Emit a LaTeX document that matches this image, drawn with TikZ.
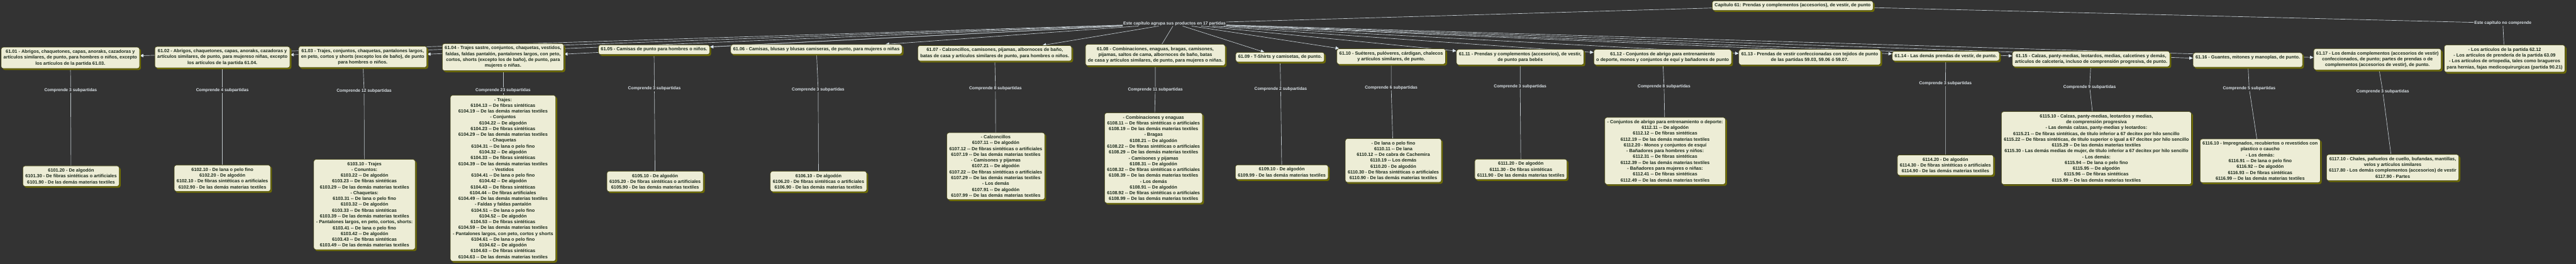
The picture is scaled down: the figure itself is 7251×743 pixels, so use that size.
\documentclass[tikz,border=0pt]{standalone}
\usepackage{fontspec}
\setmainfont{Liberation Sans}
\usepackage{xcolor}
\definecolor{fondo}{HTML}{333333}
\definecolor{cajafill}{HTML}{EDEDD6}
\definecolor{cajaborde}{HTML}{45450F}
\definecolor{sombra}{HTML}{6E6C06}
\definecolor{tinta}{HTML}{1C2A1C}
\definecolor{hilo}{HTML}{BFC7CC}
\definecolor{punta}{HTML}{DCE7EF}
\definecolor{rotulo}{HTML}{DCE3E8}
\usepackage{tikz}
\usetikzlibrary{arrows.meta, shadows}
\pgfdeclarelayer{canvas}
\pgfdeclarelayer{wires}
\pgfsetlayers{canvas,wires,main}
\newcommand{\ddsh}{-\kern0pt-}

\begin{document}
\begin{tikzpicture}[x=1pt, y=-1pt,
  partida/.style={rectangle, rounded corners=6pt, draw=cajaborde, line width=1.1pt,
    fill=cajafill, text=tinta, align=center, inner xsep=7pt, inner ysep=7.5pt,
    font=\fontsize{13}{16.4}\selectfont\bfseries,
    drop shadow={shadow xshift=4pt, shadow yshift=-4pt, fill=sombra, opacity=1}},
  subbox/.style={partida},
  cuenta/.style={text=rotulo, inner sep=1.5pt, font=\fontsize{12}{14}\selectfont\bfseries},
  wire/.style={draw=hilo, line width=1.2pt},
  arrow/.style={wire, -{Triangle[length=10pt, width=9pt, color=punta]}}
]
\useasboundingbox (0,0) rectangle (7251,743);
\begin{pgfonlayer}{canvas}
  \fill[fondo] (0,0) rectangle (7251,743);
\end{pgfonlayer}

\node[partida] (cap) at (5046,16)
  {Capítulo 61: Prendas y complementos (accesorios), de vestir, de punto};
\node[cuenta] (hub) at (3306,66) {Este capítulo agrupa sus productos en 17 partidas};
\node[cuenta] (nocomp) at (7045,65) {Este capítulo no comprende};
\node[partida] (excl) at (7050,165)
  {- Los artículos de la partida 62.12\\- Los artículos de prendería de la partida 63.09\\
   - Los artículos de ortopedia, tales como bragueros\\para hernias, fajas medicoquirurgicas (partida 90.21)};

\node[partida] (pt01) at (198,163)
  {61.01 - Abrigos, chaquetones, capas, anoraks, cazadoras y\\artículos similares, de punto, para hombres o niños, excepto\\los artículos de la partida 61.03.};
\node[partida] (pt02) at (626,161)
  {61.02 - Abrigos, chaquetones, capas, anoraks, cazadoras y\\artículos similares, de punto, para mujereso niñas, excepto\\los artículos de la partida 61.04.};
\node[partida] (pt03) at (1021,160)
  {61.03 - Trajes, conjuntos, chaquetas, pantalones largos,\\en peto, cortos y shorts (excepto los de baño), de punto\\para hombres o niños.};
\node[partida] (pt04) at (1416,161)
  {61.04 - Trajes sastre, conjuntos, chaquetas, vestidos,\\faldas, faldas pantalón, pantalones largos, con peto,\\cortos, shorts (excepto los de baño), de punto, para\\mujeres o niñas.};
\node[partida] (pt05) at (1841,140) {61.05 - Camisas de punto para hombres o niños.};
\node[partida] (pt06) at (2298,139) {61.06 - Camisas, blusas y blusas camiseras, de punto, para mujeres o niñas};
\node[partida] (pt07) at (2800,150)
  {61.07 - Calzoncillos, camisones, pijamas, albornoces de baño,\\batas de casa y artículos similares de punto, para hombres o niños.};
\node[partida] (pt08) at (3252,155)
  {61.08 - Combinaciones, enaguas, bragas, camisones,\\pijamas, saltos de cama, albornoces de baño, batas\\de casa y artículos similares, de punto, para mujeres o niñas.};
\node[partida] (pt09) at (3603,161) {61.09 - T-Shirts y camisetas, de punto.};
\node[partida] (pt10) at (3916,159)
  {61.10 - Suéteres, pulóveres, cárdigan, chalecos\\y artículos similares, de punto.};
\node[partida] (pt11) at (4279,161)
  {61.11 - Prendas y complementos (accesorios), de vestir,\\de punto para bebés};
\node[partida] (pt12) at (4680,161)
  {61.12 - Conjuntos de abrigo para entrenamiento\\o deporte, monos y conjuntos de equí y bañadores de punto};
\node[partida] (pt13) at (5094,161)
  {61.13 - Prendas de vestir confeccionadas con tejidos de punto\\de las partidas 59.03, 59.06 ó 59.07.};
\node[partida] (pt14) at (5477,158) {61.14 - Las demás prendas de vestir, de punto.};
\node[partida] (pt15) at (5886,166)
  {61.15 - Calzas, panty-medias, leotardos, medias, calcetines y demás,\\artículos de calcetería, incluso de comprensión progresiva, de punto.};
\node[partida] (pt16) at (6327,169) {61.16 - Guantes, mitones y manoplas, de punto.\\\mbox{}};
\node[partida] (pt17) at (6692,167)
  {61.17 - Los demás complementos (accesorios de vestir)\\confeccionados, de punto; partes de prendas o de\\complementos (accesorios de vestir), de punto.};

\node[subbox] (sb01) at (200,496)
  {6101.20 - De algodón\\6101.30 - De fibras sintéticas o artificiales\\6101.90 - De las demás materias textiles};
\node[subbox] (sb02) at (626,502)
  {6102.10 - De lana o pelo fino\\6102.20 - De algodón\\6102.10 - De fibras sintéticas o artificiales\\6102.90 - De las demás materias textiles};
\node[subbox] (sb03) at (1026,576)
  {6103.10 - Trajes\\- Conuntos:\\6103.22 \ddsh{} De algodón\\6103.23 \ddsh{} De fibras sintéticas\\
   6103.29 \ddsh{} De las demás materias textiles\\- Chaquetas:\\6103.31 \ddsh{} De lana o pelo fino\\
   6103.32 \ddsh{} De algodón\\6103.33 \ddsh{} De fibras sintéticas\\6103.39 \ddsh{} De las demás materias textiles\\
   - Pantalones largos, en peto, cortos, shorts:\\6103.41 \ddsh{} De lana o pelo fino\\6103.42 \ddsh{} De algodón\\
   6103.43 \ddsh{} De fibras sintéticas\\6103.49 \ddsh{} De las demás materias textiles};
\node[subbox] (sb04) at (1416,502)
  {- Trajes:\\6104.13 \ddsh{} De fibras sintéticas\\6104.19 \ddsh{} De las demás materias textiles\\
   - Conjuntos\\6104.22 \ddsh{} De algodón\\6104.23 \ddsh{} De fibras sintéticas\\6104.29 \ddsh{} De las demás materias textiles\\
   - Chaquetas\\6104.31 \ddsh{} De lana o pelo fino\\6104.32 \ddsh{} De algodón\\6104.33 \ddsh{} De fibras sintéticas\\
   6104.39 \ddsh{} De las demás materias textiles\\- Vestidos\\6104.41 \ddsh{} De lana o pelo fino\\
   6104.42 \ddsh{} De algodón\\6104.43 \ddsh{} De fibras sintéticas\\6104.44 \ddsh{} De fibras artificiales\\
   6104.49 \ddsh{} De las demás materias textiles\\- Faldas y faldas pantalón\\6104.51 \ddsh{} De lana o pelo fino\\
   6104.52 \ddsh{} De algodón\\6104.53 \ddsh{} De fibras sintéticas\\6104.59 \ddsh{} De las demás materias textiles\\
   - Pantalones largos, con peto, cortos y shorts\\6104.61 \ddsh{} De lana o pelo fino\\6104.62 \ddsh{} De algodón\\
   6104.63 \ddsh{} De fibras sintéticas\\6104.63 \ddsh{} De las demás materias textiles};
\node[subbox] (sb05) at (1844,511)
  {6105.10 - De algodón\\6105.20 - De fibras sintéticas o artificiales\\6105.90 - De las demás materias textiles};
\node[subbox] (sb06) at (2304,511)
  {6106.10 - De algodón\\6106.20 - De fibras sintéticas o artificiales\\6106.90 - De las demás materias textiles};
\node[subbox] (sb07) at (2803,468)
  {- Calzoncillos\\6107.11 \ddsh{} De algodón\\6107.12 \ddsh{} De fibras sintéticas o artificiales\\
   6107.19 \ddsh{} De las demás materias textiles\\- Camisones y pijamas\\6107.21 \ddsh{} De algodón\\
   6107.22 \ddsh{} De fibras sintéticas o artificiales\\6107.29 \ddsh{} De las demás materias textiles\\
   - Los demás\\6107.91 \ddsh{} De algodón\\6107.99 \ddsh{} De las demás materias textiles};
\node[subbox] (sb08) at (3247,445)
  {- Combinaciones y enaguas\\6108.11 \ddsh{} De fibras sintéticas o artificiales\\6108.19 \ddsh{} De las demás materias textiles\\
   - Bragas\\6108.21 \ddsh{} De algodón\\6108.22 \ddsh{} De fibras sintéticas o artificiales\\
   6108.29 \ddsh{} De las demás materias textiles\\- Camisones y pijamas\\6108.31 \ddsh{} De algodón\\
   6108.32 \ddsh{} De fibras sintéticas o artificiales\\6108.39 \ddsh{} De las demás materias textiles\\
   - Los demás\\6108.91 \ddsh{} De algodón\\6108.92 \ddsh{} De fibras sintéticas o artificiales\\
   6108.99 \ddsh{} De las demás materias textiles};
\node[subbox] (sb09) at (3608,485)
  {6109.10 - De algodón\\6109.99 - De las demás materias textiles};
\node[subbox] (sb10) at (3922,452)
  {- De lana o pelo fino\\6110.11 \ddsh{} De lana\\6110.12 \ddsh{} De cabra de Cachemira\\6110.19 \ddsh{} Los demás\\
   6110.20 - De algodón\\6110.30 - De fibras sintéticas o artificiales\\6110.90 - De las demás materias textiles};
\node[subbox] (sb11) at (4281,477)
  {6111.20 - De algodón\\6111.30 - De fibras sintéticas\\6111.90 - De las demás materias textiles};
\node[subbox] (sb12) at (4687,425)
  {- Conjuntos de abrigo para entrenamiento o deporte:\\6112.11 \ddsh{} De algodón\\6112.12 \ddsh{} De fibras sintéticas\\
   6112.19 \ddsh{} De las demás materias textiles\\6112.20 - Monos y conjuntos de esquí\\
   - Bañadores para hombres y niños:\\6112.31 \ddsh{} De fibras sintéticas\\6112.39 \ddsh{} De las demás materias textiles\\
   - Bañadores para mujeres o niñas:\\6112.41 \ddsh{} De fibras sintéticas\\6112.49 \ddsh{} De las demás materias textiles};
\node[subbox] (sb14) at (5476,465)
  {6114.20 - De algodón\\6114.30 - De fibras sintéticas o artificiales\\6114.90 - De las demás materias textiles};
\node[subbox] (sb15) at (5901,417)
  {6115.10 - Calzas, panty-medias, leotardos y medias,\\de comprensión progresiva\\
   - Las demás calzas, panty-medias y leotardos:\\
   6115.21 \ddsh{} De fibras sintéticas, de título inferior a 67 decitex por hilo sencillo\\
   6115.22 \ddsh{} De fibras sintéticas, de título superior o igual a 67 decitex por hilo sencillo\\
   6115.29 \ddsh{} De las demás materias textiles\\
   6115.30 - Las demás medias de mujer, de título inferior a 67 decitex por hilo sencillo\\
   - Los demás:\\6115.94 \ddsh{} De lana o pelo fino\\6115.95 \ddsh{} De algodón\\
   6115.96 \ddsh{} De fibras sintéticas\\6115.99 \ddsh{} De las demás materias textiles};
\node[subbox] (sb16) at (6362,453)
  {6116.10 - Impregnados, recubiertos o revestidos con\\plastico o caucho\\- Los demás:\\
   6116.91 \ddsh{} De lana o pelo fino\\6116.92 \ddsh{} De algodón\\6116.93 \ddsh{} De fibras sintéticas\\
   6116.99 \ddsh{} De las demás materias textiles};
\node[subbox] (sb17) at (6735,472)
  {6117.10 - Chales, pañuelos de cuello, bufandas, mantillas,\\velos y artículos similares\\
   6117.80 - Los demás complementos (accesorios) de vestir\\6117.90 - Partes};

\node[cuenta] (ct01) at (199,254) {Comprende 3 subpartidas};
\node[cuenta] (ct02) at (626,254) {Comprende 4 subpartidas};
\node[cuenta] (ct03) at (1025,256) {Comprende 12 subpartidas};
\node[cuenta] (ct04) at (1416,254) {Comprende 23 subpartidas};
\node[cuenta] (ct05) at (1842,250) {Comprende 3 subpartidas};
\node[cuenta] (ct06) at (2303,252) {Comprende 3 subpartidas};
\node[cuenta] (ct07) at (2802,250) {Comprende 8 subpartidas};
\node[cuenta] (ct08) at (3252,252) {Comprende 11 subpartidas};
\node[cuenta] (ct09) at (3605,251) {Comprende 2 subpartidas};
\node[cuenta] (ct10) at (3916,247) {Comprende 6 subpartidas};
\node[cuenta] (ct11) at (4279,243) {Comprende 3 subpartidas};
\node[cuenta] (ct12) at (4684,243) {Comprende 8 subpartidas};
\node[cuenta] (ct14) at (5476,235) {Comprende 3 subpartidas};
\node[cuenta] (ct15) at (5882,245) {Comprende 9 subpartidas};
\node[cuenta] (ct16) at (6331,249) {Comprende 5 subpartidas};
\node[cuenta] (ct17) at (6707,258) {Comprende 3 subpartidas};

\begin{pgfonlayer}{wires}
\draw[wire] (cap) -- (hub);
\draw[wire] (cap) -- (nocomp);
\draw[wire] (nocomp) -- (excl);

\draw[arrow] (hub) -- (pt01);
\draw[arrow] (hub) -- (pt02);
\draw[arrow] (hub) -- (pt03);
\draw[arrow] (hub) -- (pt04);
\draw[arrow] (hub) -- (pt05);
\draw[arrow] (hub) -- (pt06);
\draw[arrow] (hub) -- (pt07);
\draw[wire] (hub) -- (pt08);
\draw[arrow] (hub) -- (pt09);
\draw[arrow] (hub) -- (pt10);
\draw[arrow] (hub) -- (pt11);
\draw[arrow] (hub) -- (pt12);
\draw[arrow] (hub) -- (pt13);
\draw[arrow] (hub) -- (pt14);
\draw[arrow] (hub) -- (pt15);
\draw[arrow] (hub) -- (pt16);
\draw[arrow] (hub) -- (pt17);

\draw[wire] (pt01) -- (ct01) -- (sb01);
\draw[wire] (pt02) -- (ct02) -- (sb02);
\draw[wire] (pt03) -- (ct03) -- (sb03);
\draw[wire] (pt04) -- (ct04) -- (sb04);
\draw[wire] (pt05) -- (ct05) -- (sb05);
\draw[wire] (pt06) -- (ct06) -- (sb06);
\draw[wire] (pt07) -- (ct07) -- (sb07);
\draw[wire] (pt08) -- (ct08) -- (sb08);
\draw[wire] (pt09) -- (ct09) -- (sb09);
\draw[wire] (pt10) -- (ct10) -- (sb10);
\draw[wire] (pt11) -- (ct11) -- (sb11);
\draw[wire] (pt12) -- (ct12) -- (sb12);
\draw[wire] (pt14) -- (ct14) -- (sb14);
\draw[wire] (pt15) -- (ct15) -- (sb15);
\draw[wire] (pt16) -- (ct16) -- (sb16);
\draw[wire] (pt17) -- (ct17) -- (sb17);
\end{pgfonlayer}
\end{tikzpicture}
\end{document}
